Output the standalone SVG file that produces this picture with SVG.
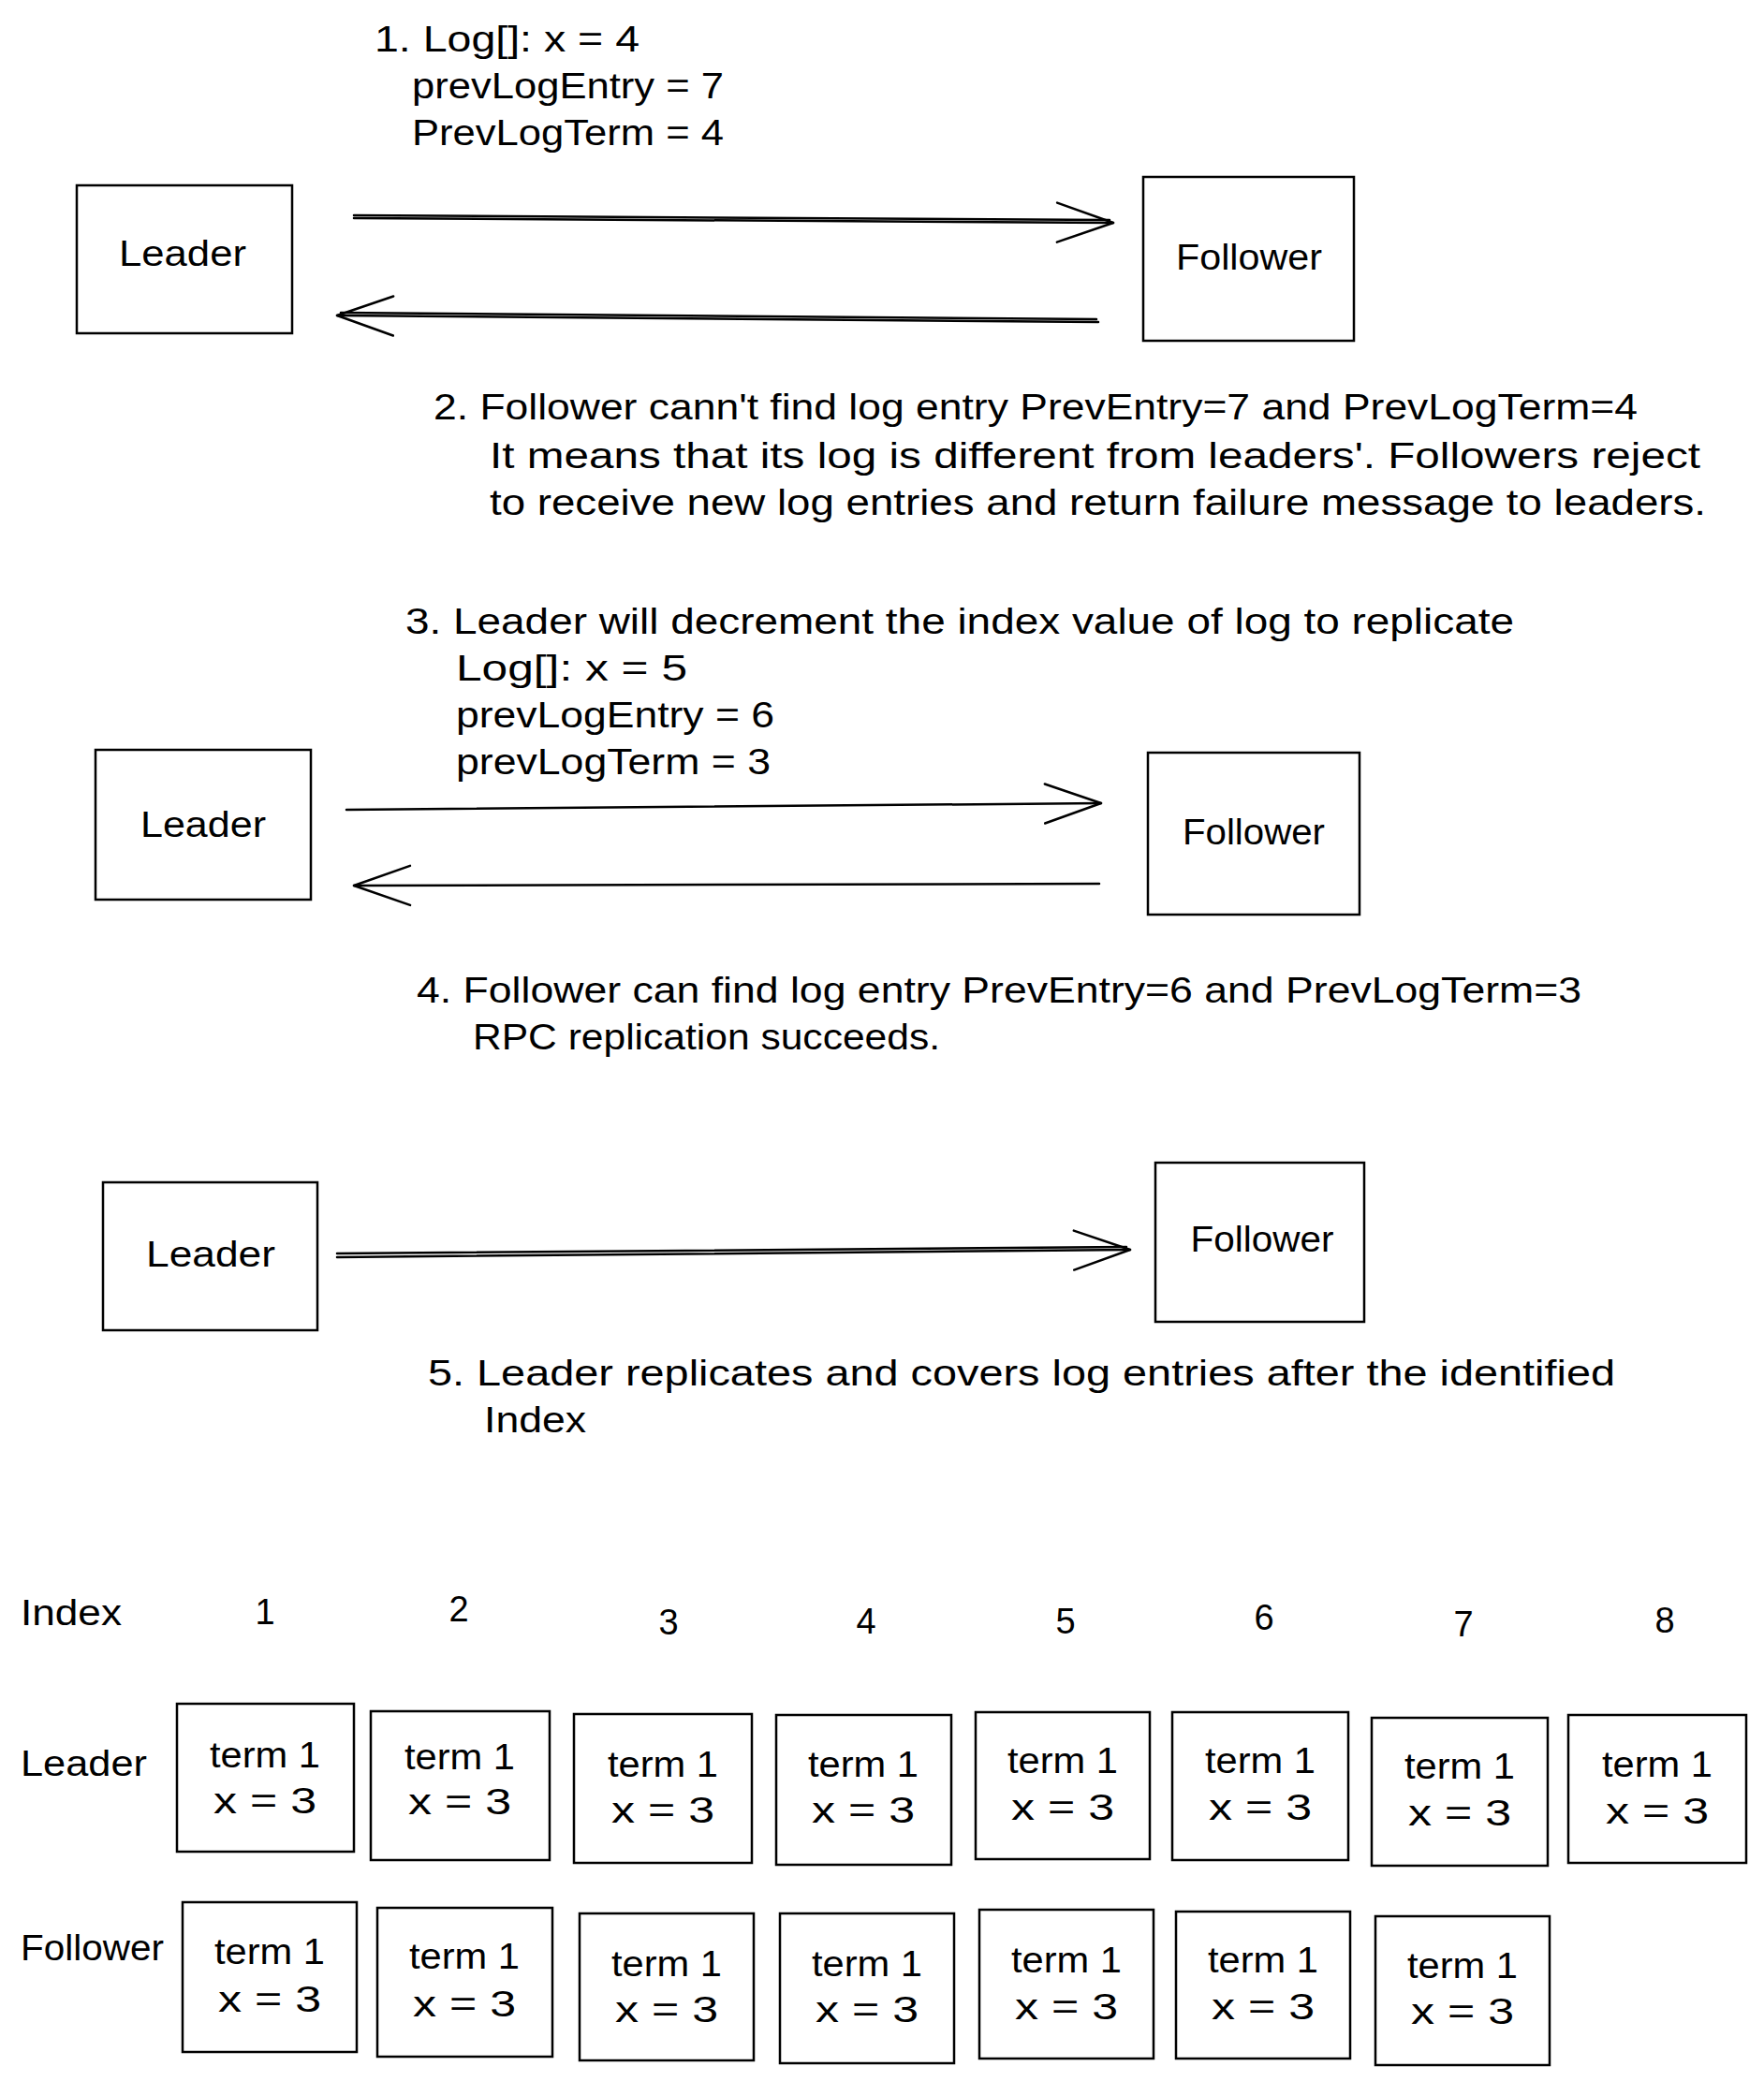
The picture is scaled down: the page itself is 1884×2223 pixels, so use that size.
<svg xmlns="http://www.w3.org/2000/svg" width="1884" height="2223" viewBox="0 0 1884 2223">
<style>
  text { font-family: "Liberation Sans", Arial, sans-serif; font-size: 38px; fill: #000; }
  .c { text-anchor: middle; }
  .box { fill: #fff; stroke: #000; stroke-width: 2.5; }
  .edge { fill: none; stroke: #000; stroke-width: 2.5; stroke-linecap: round; }
  .head { fill: none; stroke: #000; stroke-width: 2.5; stroke-linecap: round; stroke-linejoin: round; }
</style>
<defs>
  <marker id="ah" viewBox="-66 -28 72 56" refX="0" refY="0" markerWidth="72" markerHeight="56" markerUnits="userSpaceOnUse" orient="auto">
    <path class="head" d="M -60 -21 L 0 0 L -60 21"/>
  </marker>
</defs>
<rect width="1884" height="2223" fill="#fff"/>

<g id="connectors">
  <path class="edge" d="M 378 233 L 1189 238" marker-end="url(#ah)"/>
  <path class="edge" d="M 378 230 L 1185 235"/>
  <path class="edge" d="M 1173 344 L 360 337" marker-end="url(#ah)"/>
  <path class="edge" d="M 1171 341 L 364 334"/>
  <path class="edge" d="M 370 865 L 1176 858" marker-end="url(#ah)"/>
  <path class="edge" d="M 1174 944 L 378 946" marker-end="url(#ah)"/>
  <path class="edge" d="M 360 1343 L 1207 1335" marker-end="url(#ah)"/>
  <path class="edge" d="M 360 1339 L 1203 1332"/>
</g>

<g id="s1-text1">
  <text x="400" y="55" textLength="283" lengthAdjust="spacingAndGlyphs">1. Log[]: x = 4</text>
  <text x="440" y="105" textLength="333" lengthAdjust="spacingAndGlyphs">prevLogEntry = 7</text>
  <text x="440" y="155" textLength="333" lengthAdjust="spacingAndGlyphs">PrevLogTerm = 4</text>
</g>
<g id="s1-leader">
  <rect class="box" x="82" y="198" width="230" height="158"/>
  <text class="c" x="195" y="284" textLength="136" lengthAdjust="spacingAndGlyphs">Leader</text>
</g>
<g id="s1-follower">
  <rect class="box" x="1221" y="189" width="225" height="175"/>
  <text class="c" x="1334" y="288" textLength="156" lengthAdjust="spacingAndGlyphs">Follower</text>
</g>
<g id="s1-text2">
  <text x="463" y="448" textLength="1286" lengthAdjust="spacingAndGlyphs">2. Follower cann't find log entry PrevEntry=7 and PrevLogTerm=4</text>
  <text x="523" y="500" textLength="1293" lengthAdjust="spacingAndGlyphs">It means that its log is different from leaders'. Followers reject</text>
  <text x="523" y="550" textLength="1299" lengthAdjust="spacingAndGlyphs">to receive new log entries and return failure message to leaders.</text>
</g>

<g id="s2-text3">
  <text x="433" y="677" textLength="1184" lengthAdjust="spacingAndGlyphs">3. Leader will decrement the index value of log to replicate</text>
  <text x="487" y="727" textLength="247" lengthAdjust="spacingAndGlyphs">Log[]: x = 5</text>
  <text x="487" y="777" textLength="340" lengthAdjust="spacingAndGlyphs">prevLogEntry = 6</text>
  <text x="487" y="827" textLength="336" lengthAdjust="spacingAndGlyphs">prevLogTerm = 3</text>
</g>
<g id="s2-leader">
  <rect class="box" x="102" y="801" width="230" height="160"/>
  <text class="c" x="217" y="894" textLength="134" lengthAdjust="spacingAndGlyphs">Leader</text>
</g>
<g id="s2-follower">
  <rect class="box" x="1226" y="804" width="226" height="173"/>
  <text class="c" x="1339" y="902" textLength="152" lengthAdjust="spacingAndGlyphs">Follower</text>
</g>
<g id="s2-text4">
  <text x="445" y="1071" textLength="1244" lengthAdjust="spacingAndGlyphs">4. Follower can find log entry PrevEntry=6 and PrevLogTerm=3</text>
  <text x="505" y="1121" textLength="499" lengthAdjust="spacingAndGlyphs">RPC replication succeeds.</text>
</g>

<g id="s3-leader">
  <rect class="box" x="110" y="1263" width="229" height="158"/>
  <text class="c" x="225" y="1353" textLength="138" lengthAdjust="spacingAndGlyphs">Leader</text>
</g>
<g id="s3-follower">
  <rect class="box" x="1234" y="1242" width="223" height="170"/>
  <text class="c" x="1348" y="1337" textLength="153" lengthAdjust="spacingAndGlyphs">Follower</text>
</g>
<g id="s3-text5">
  <text x="457" y="1480" textLength="1268" lengthAdjust="spacingAndGlyphs">5. Leader replicates and covers log entries after the identified</text>
  <text x="517" y="1530" textLength="109" lengthAdjust="spacingAndGlyphs">Index</text>
</g>

<g id="grid-labels">
  <text x="22" y="1736" textLength="108" lengthAdjust="spacingAndGlyphs">Index</text>
  <text x="22" y="1897" textLength="135" lengthAdjust="spacingAndGlyphs">Leader</text>
  <text x="22" y="2094" textLength="153" lengthAdjust="spacingAndGlyphs">Follower</text>
  <text class="c" x="283" y="1735">1</text>
  <text class="c" x="490" y="1732">2</text>
  <text class="c" x="714" y="1746">3</text>
  <text class="c" x="925" y="1745">4</text>
  <text class="c" x="1138" y="1745">5</text>
  <text class="c" x="1350" y="1741">6</text>
  <text class="c" x="1563" y="1748">7</text>
  <text class="c" x="1778" y="1744">8</text>
</g>

<g id="leader-1"><rect class="box" x="189" y="1820" width="189" height="158"/><text class="c" x="283" y="1888" textLength="118" lengthAdjust="spacingAndGlyphs">term 1</text><text class="c" x="283" y="1937" textLength="110" lengthAdjust="spacingAndGlyphs">x = 3</text></g>
<g id="leader-2"><rect class="box" x="396" y="1828" width="191" height="159"/><text class="c" x="491" y="1890" textLength="118" lengthAdjust="spacingAndGlyphs">term 1</text><text class="c" x="491" y="1938" textLength="110" lengthAdjust="spacingAndGlyphs">x = 3</text></g>
<g id="leader-3"><rect class="box" x="613" y="1831" width="190" height="159"/><text class="c" x="708" y="1898" textLength="118" lengthAdjust="spacingAndGlyphs">term 1</text><text class="c" x="708" y="1947" textLength="110" lengthAdjust="spacingAndGlyphs">x = 3</text></g>
<g id="leader-4"><rect class="box" x="829" y="1832" width="187" height="160"/><text class="c" x="922" y="1898" textLength="118" lengthAdjust="spacingAndGlyphs">term 1</text><text class="c" x="922" y="1947" textLength="110" lengthAdjust="spacingAndGlyphs">x = 3</text></g>
<g id="leader-5"><rect class="box" x="1042" y="1829" width="186" height="157"/><text class="c" x="1135" y="1894" textLength="118" lengthAdjust="spacingAndGlyphs">term 1</text><text class="c" x="1135" y="1944" textLength="110" lengthAdjust="spacingAndGlyphs">x = 3</text></g>
<g id="leader-6"><rect class="box" x="1252" y="1829" width="188" height="158"/><text class="c" x="1346" y="1894" textLength="118" lengthAdjust="spacingAndGlyphs">term 1</text><text class="c" x="1346" y="1944" textLength="110" lengthAdjust="spacingAndGlyphs">x = 3</text></g>
<g id="leader-7"><rect class="box" x="1465" y="1835" width="188" height="158"/><text class="c" x="1559" y="1900" textLength="118" lengthAdjust="spacingAndGlyphs">term 1</text><text class="c" x="1559" y="1950" textLength="110" lengthAdjust="spacingAndGlyphs">x = 3</text></g>
<g id="leader-8"><rect class="box" x="1675" y="1832" width="190" height="158"/><text class="c" x="1770" y="1898" textLength="118" lengthAdjust="spacingAndGlyphs">term 1</text><text class="c" x="1770" y="1948" textLength="110" lengthAdjust="spacingAndGlyphs">x = 3</text></g>

<g id="follower-1"><rect class="box" x="195" y="2032" width="186" height="160"/><text class="c" x="288" y="2098" textLength="118" lengthAdjust="spacingAndGlyphs">term 1</text><text class="c" x="288" y="2149" textLength="110" lengthAdjust="spacingAndGlyphs">x = 3</text></g>
<g id="follower-2"><rect class="box" x="403" y="2038" width="187" height="159"/><text class="c" x="496" y="2103" textLength="118" lengthAdjust="spacingAndGlyphs">term 1</text><text class="c" x="496" y="2154" textLength="110" lengthAdjust="spacingAndGlyphs">x = 3</text></g>
<g id="follower-3"><rect class="box" x="619" y="2044" width="186" height="157"/><text class="c" x="712" y="2111" textLength="118" lengthAdjust="spacingAndGlyphs">term 1</text><text class="c" x="712" y="2160" textLength="110" lengthAdjust="spacingAndGlyphs">x = 3</text></g>
<g id="follower-4"><rect class="box" x="833" y="2044" width="186" height="160"/><text class="c" x="926" y="2111" textLength="118" lengthAdjust="spacingAndGlyphs">term 1</text><text class="c" x="926" y="2160" textLength="110" lengthAdjust="spacingAndGlyphs">x = 3</text></g>
<g id="follower-5"><rect class="box" x="1046" y="2040" width="186" height="159"/><text class="c" x="1139" y="2107" textLength="118" lengthAdjust="spacingAndGlyphs">term 1</text><text class="c" x="1139" y="2157" textLength="110" lengthAdjust="spacingAndGlyphs">x = 3</text></g>
<g id="follower-6"><rect class="box" x="1256" y="2042" width="186" height="157"/><text class="c" x="1349" y="2107" textLength="118" lengthAdjust="spacingAndGlyphs">term 1</text><text class="c" x="1349" y="2157" textLength="110" lengthAdjust="spacingAndGlyphs">x = 3</text></g>
<g id="follower-7"><rect class="box" x="1469" y="2047" width="186" height="159"/><text class="c" x="1562" y="2113" textLength="118" lengthAdjust="spacingAndGlyphs">term 1</text><text class="c" x="1562" y="2162" textLength="110" lengthAdjust="spacingAndGlyphs">x = 3</text></g>
</svg>
